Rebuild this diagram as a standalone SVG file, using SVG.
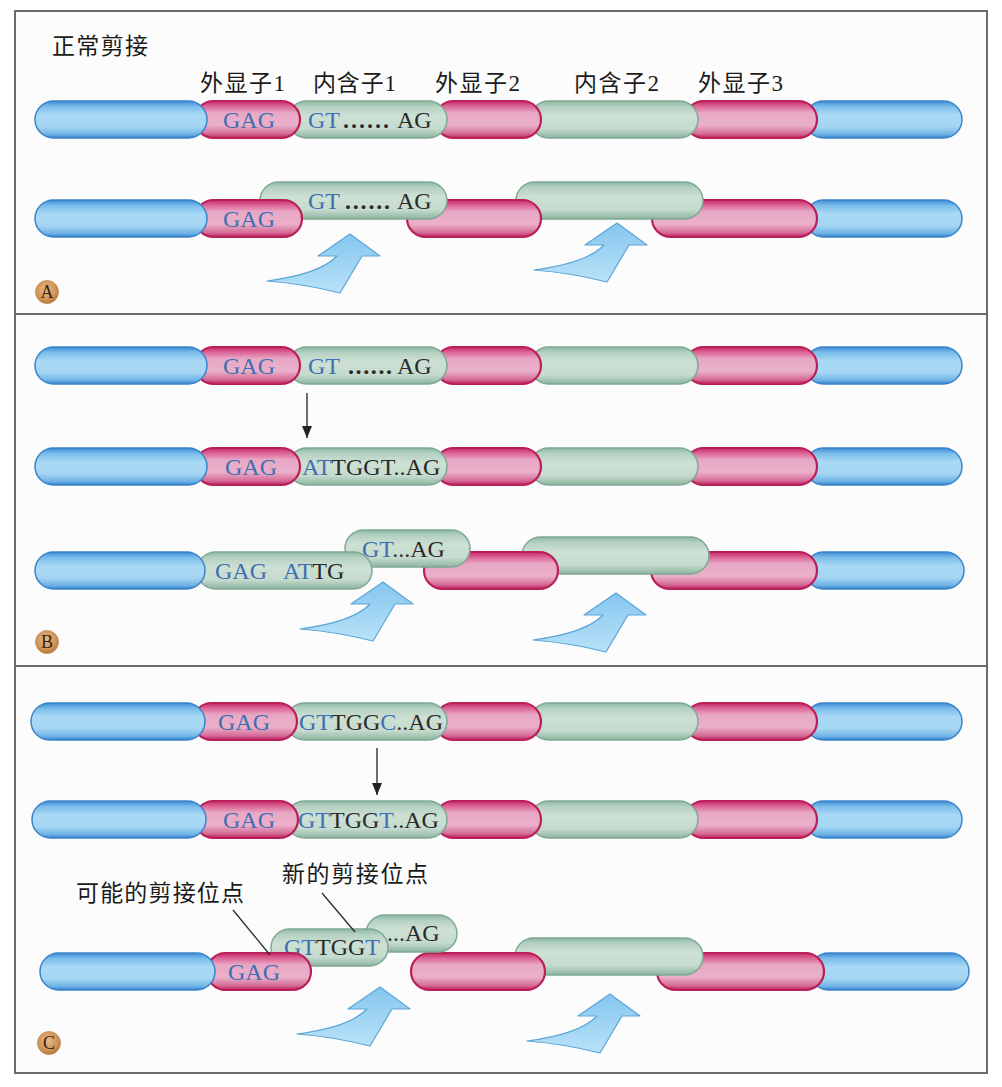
<svg xmlns="http://www.w3.org/2000/svg" width="1002" height="1087" viewBox="0 0 1002 1087">
<defs>
<linearGradient id="gBlue" x1="0" y1="0" x2="0" y2="1">
<stop offset="0" stop-color="#3b8ad4"/><stop offset="0.15" stop-color="#7bbdea"/><stop offset="0.38" stop-color="#a9d9f5"/><stop offset="0.7" stop-color="#a4d5f3"/><stop offset="0.9" stop-color="#6fb3e5"/><stop offset="1" stop-color="#3580cc"/>
</linearGradient>
<linearGradient id="gPink" x1="0" y1="0" x2="0" y2="1">
<stop offset="0" stop-color="#c42a64"/><stop offset="0.14" stop-color="#dc6496"/><stop offset="0.32" stop-color="#e8a8c5"/><stop offset="0.65" stop-color="#eab0ca"/><stop offset="0.88" stop-color="#d56c97"/><stop offset="1" stop-color="#bb205a"/>
</linearGradient>
<linearGradient id="gGreen" x1="0" y1="0" x2="0" y2="1">
<stop offset="0" stop-color="#8fb8a4"/><stop offset="0.15" stop-color="#b4d1c1"/><stop offset="0.4" stop-color="#cde0d4"/><stop offset="0.75" stop-color="#c5dbce"/><stop offset="1" stop-color="#8db49f"/>
</linearGradient>
<linearGradient id="gArrow" x1="0" y1="0" x2="0" y2="1">
<stop offset="0" stop-color="#85c6ef"/><stop offset="1" stop-color="#b9e2f8"/>
</linearGradient>
<radialGradient id="gBadge" cx="0.45" cy="0.4" r="0.6">
<stop offset="0" stop-color="#e6b987"/><stop offset="0.7" stop-color="#d0955a"/><stop offset="1" stop-color="#b57638"/>
</radialGradient>
<path id="bigArrow" d="M0,0 L30,22 L12,22 L-10,59 Q-45,50 -83,47 Q-30,40 -13,22 L-32,22 Z"/>
<marker id="ah" viewBox="0 0 12 10" refX="12" refY="5" markerWidth="12" markerHeight="10" markerUnits="userSpaceOnUse" orient="auto">
<path d="M0,0 L12,5 L0,10 Z" fill="#222"/>
</marker>
</defs>
<style>
.blue{fill:url(#gBlue);stroke:#3a84cc;stroke-width:1.5}
.pink{fill:url(#gPink);stroke:#bb1f58;stroke-width:2.2}
.green{fill:url(#gGreen);stroke:#7ea894;stroke-width:1.5}
.seq{font-family:"Liberation Serif",serif;font-size:24px}
.dots{font-weight:bold}
.b{fill:#3f6fb3}
.k{fill:#2a2a2a}
.lbl{font-family:"Liberation Serif","Noto Sans CJK SC",sans-serif;font-size:23px;fill:#1a1a1a}
.badge{fill:url(#gBadge);stroke:#c88a50;stroke-width:0.8}
.badgeT{font-family:"Liberation Serif",serif;font-size:18px;fill:#3a2410;text-anchor:middle}
.arr{fill:url(#gArrow);stroke:#5aa5d8;stroke-width:1.2;stroke-linejoin:round}
.lead{stroke:#2a2a2a;stroke-width:1.3;fill:none}
.thin{stroke:#222;stroke-width:1.3;fill:none}
</style>

<rect x="0" y="0" width="1002" height="1087" fill="#ffffff"/>
<g id="frame">
<rect x="15" y="11" width="972" height="1062" fill="#fcfcfc" stroke="#6a6a6a" stroke-width="2"/>
<line x1="15" y1="314" x2="987" y2="314" stroke="#6a6a6a" stroke-width="2"/>
<line x1="15" y1="666" x2="987" y2="666" stroke="#6a6a6a" stroke-width="2"/>
</g>

<!-- Panel A -->
<g id="title-A"><text class="lbl" x="52" y="54" font-size="24" textLength="96" lengthAdjust="spacing">正常剪接</text></g>
<g id="labels-A">
<text class="lbl" x="200" y="91" textLength="85" lengthAdjust="spacing">外显子1</text>
<text class="lbl" x="313" y="91" textLength="83" lengthAdjust="spacing">内含子1</text>
<text class="lbl" x="435" y="91" textLength="85" lengthAdjust="spacing">外显子2</text>
<text class="lbl" x="574" y="91" textLength="85" lengthAdjust="spacing">内含子2</text>
<text class="lbl" x="698" y="91" textLength="85" lengthAdjust="spacing">外显子3</text>
</g>

<g id="A1">
<g id="A1-blue2"><rect class="blue" x="805" y="101" width="157" height="37" rx="18.5"/></g>
<g id="A1-exon3"><rect class="pink" x="685" y="101" width="132" height="37" rx="18.5"/></g>
<g id="A1-intron2"><rect class="green" x="530" y="101" width="168" height="37" rx="18.5"/></g>
<g id="A1-exon2"><rect class="pink" x="435" y="101" width="106" height="37" rx="18.5"/></g>
<g id="A1-intron1"><rect class="green" x="288" y="101" width="159" height="37" rx="18.5"/>
<text class="seq b" x="308" y="128">GT</text><text class="seq k dots" x="343" y="128" textLength="46" lengthAdjust="spacing">......</text><text class="seq k" x="397" y="128">AG</text></g>
<g id="A1-exon1"><rect class="pink" x="195" y="101" width="105" height="37" rx="18.5"/><text class="seq b" x="223" y="128">GAG</text></g>
<g id="A1-blue1"><rect class="blue" x="35" y="101" width="172" height="37" rx="18.5"/></g>
</g>

<g id="A2">
<g id="A2-blue2"><rect class="blue" x="805" y="200" width="157" height="37" rx="18.5"/></g>
<g id="A2-exon3"><rect class="pink" x="652" y="200" width="165" height="37" rx="18.5"/></g>
<g id="A2-intron2"><rect class="green" x="516" y="182" width="187" height="37" rx="18.5"/></g>
<g id="A2-exon2"><rect class="pink" x="407" y="200" width="134" height="37" rx="18.5"/></g>
<g id="A2-intron1"><rect class="green" x="260" y="182" width="187" height="37" rx="18.5"/>
<text class="seq b" x="308" y="209">GT</text><text class="seq k dots" x="345" y="209" textLength="45" lengthAdjust="spacing">......</text><text class="seq k" x="397" y="209">AG</text></g>
<g id="A2-exon1"><rect class="pink" x="195" y="200" width="107" height="37" rx="18.5"/><text class="seq b" x="223" y="227">GAG</text></g>
<g id="A2-blue1"><rect class="blue" x="35" y="200" width="172" height="37" rx="18.5"/></g>
</g>

<!-- Panel B -->
<g id="B1">
<g id="B1-blue2"><rect class="blue" x="805" y="347" width="157" height="37" rx="18.5"/></g>
<g id="B1-exon3"><rect class="pink" x="685" y="347" width="132" height="37" rx="18.5"/></g>
<g id="B1-intron2"><rect class="green" x="530" y="347" width="168" height="37" rx="18.5"/></g>
<g id="B1-exon2"><rect class="pink" x="435" y="347" width="106" height="37" rx="18.5"/></g>
<g id="B1-intron1"><rect class="green" x="288" y="347" width="159" height="37" rx="18.5"/>
<text class="seq b" x="308" y="374">GT</text><text class="seq k dots" x="348" y="374" textLength="44" lengthAdjust="spacing">......</text><text class="seq k" x="397" y="374">AG</text></g>
<g id="B1-exon1"><rect class="pink" x="195" y="347" width="105" height="37" rx="18.5"/><text class="seq b" x="223" y="374">GAG</text></g>
<g id="B1-blue1"><rect class="blue" x="35" y="347" width="172" height="37" rx="18.5"/></g>
</g>

<g id="B2">
<g id="B2-blue2"><rect class="blue" x="805" y="448" width="157" height="37" rx="18.5"/></g>
<g id="B2-exon3"><rect class="pink" x="685" y="448" width="132" height="37" rx="18.5"/></g>
<g id="B2-intron2"><rect class="green" x="530" y="448" width="168" height="37" rx="18.5"/></g>
<g id="B2-exon2"><rect class="pink" x="435" y="448" width="106" height="37" rx="18.5"/></g>
<g id="B2-intron1"><rect class="green" x="288" y="448" width="159" height="37" rx="18.5"/>
<text class="seq" x="302" y="475"><tspan class="b">AT</tspan><tspan class="k">TGGT..AG</tspan></text></g>
<g id="B2-exon1"><rect class="pink" x="195" y="448" width="105" height="37" rx="18.5"/><text class="seq b" x="225" y="475">GAG</text></g>
<g id="B2-blue1"><rect class="blue" x="35" y="448" width="172" height="37" rx="18.5"/></g>
</g>

<g id="B3">
<g id="B3-blue2"><rect class="blue" x="805" y="552" width="159" height="37" rx="18.5"/></g>
<g id="B3-exon3"><rect class="pink" x="651" y="552" width="166" height="37" rx="18.5"/></g>
<g id="B3-intron2"><rect class="green" x="522" y="537" width="187" height="37" rx="18.5"/></g>
<g id="B3-exon2"><rect class="pink" x="424" y="552" width="134" height="37" rx="18.5"/></g>
<g id="B3-intron1"><rect class="green" x="345" y="530" width="125" height="37" rx="18.5"/>
<text class="seq" x="362" y="557"><tspan class="b">GT</tspan><tspan class="k">...AG</tspan></text></g>
<g id="B3-exon1"><rect class="green" x="197" y="552" width="175" height="37" rx="18.5"/>
<text class="seq b" x="215" y="579">GAG</text><text class="seq" x="283" y="579"><tspan class="b">AT</tspan><tspan class="k">TG</tspan></text></g>
<g id="B3-blue1"><rect class="blue" x="35" y="552" width="170" height="37" rx="18.5"/></g>
</g>

<!-- Panel C -->
<g id="C1">
<g id="C1-blue2"><rect class="blue" x="805" y="703" width="157" height="37" rx="18.5"/></g>
<g id="C1-exon3"><rect class="pink" x="685" y="703" width="132" height="37" rx="18.5"/></g>
<g id="C1-intron2"><rect class="green" x="530" y="703" width="168" height="37" rx="18.5"/></g>
<g id="C1-exon2"><rect class="pink" x="435" y="703" width="106" height="37" rx="18.5"/></g>
<g id="C1-intron1"><rect class="green" x="286" y="703" width="161" height="37" rx="18.5"/>
<text class="seq" x="299" y="730"><tspan class="b">GT</tspan><tspan class="k">TGG</tspan><tspan class="b">C</tspan><tspan class="k">..AG</tspan></text></g>
<g id="C1-exon1"><rect class="pink" x="193" y="703" width="104" height="37" rx="18.5"/><text class="seq b" x="218" y="730">GAG</text></g>
<g id="C1-blue1"><rect class="blue" x="31" y="703" width="174" height="37" rx="18.5"/></g>
</g>

<g id="C2">
<g id="C2-blue2"><rect class="blue" x="805" y="801" width="157" height="37" rx="18.5"/></g>
<g id="C2-exon3"><rect class="pink" x="685" y="801" width="132" height="37" rx="18.5"/></g>
<g id="C2-intron2"><rect class="green" x="530" y="801" width="168" height="37" rx="18.5"/></g>
<g id="C2-exon2"><rect class="pink" x="435" y="801" width="106" height="37" rx="18.5"/></g>
<g id="C2-intron1"><rect class="green" x="286" y="801" width="161" height="37" rx="18.5"/>
<text class="seq" x="298" y="828"><tspan class="b">GT</tspan><tspan class="k">TGG</tspan><tspan class="b">T</tspan><tspan class="k">..AG</tspan></text></g>
<g id="C2-exon1"><rect class="pink" x="195" y="801" width="103" height="37" rx="18.5"/><text class="seq b" x="223" y="828">GAG</text></g>
<g id="C2-blue1"><rect class="blue" x="32" y="801" width="174" height="37" rx="18.5"/></g>
</g>

<g id="C3">
<g id="C3-blue2"><rect class="blue" x="810" y="953" width="159" height="37" rx="18.5"/></g>
<g id="C3-exon3"><rect class="pink" x="657" y="953" width="167" height="37" rx="18.5"/></g>
<g id="C3-intron2"><rect class="green" x="515" y="938" width="188" height="37" rx="18.5"/></g>
<g id="C3-exon2"><rect class="pink" x="411" y="953" width="134" height="37" rx="18.5"/></g>
<g id="C3-intron1b"><rect class="green" x="366" y="915" width="91" height="37" rx="18.5"/><text class="seq k" x="387" y="941">...AG</text></g>
<g id="C3-intron1a"><rect class="green" x="271" y="929" width="117" height="37" rx="18.5"/>
<text class="seq" x="284" y="955"><tspan class="b">GT</tspan><tspan class="k">TGG</tspan><tspan class="b">T</tspan></text></g>
<g id="C3-exon1"><rect class="pink" x="207" y="953" width="104" height="37" rx="18.5"/><text class="seq b" x="228" y="980">GAG</text></g>
<g id="C3-blue1"><rect class="blue" x="40" y="953" width="175" height="37" rx="18.5"/></g>
</g>

<g id="labels-C">
<text class="lbl" x="76" y="901" font-size="23.5" textLength="168" lengthAdjust="spacing">可能的剪接位点</text>
<text class="lbl" x="282" y="882" font-size="23.5" textLength="146" lengthAdjust="spacing">新的剪接位点</text>
</g>

<g id="splice-arrows">
<use href="#bigArrow" class="arr" transform="translate(350,234)"/>
<use href="#bigArrow" class="arr" transform="translate(617,223)"/>
<use href="#bigArrow" class="arr" transform="translate(383,582)"/>
<use href="#bigArrow" class="arr" transform="translate(616,593)"/>
<use href="#bigArrow" class="arr" transform="translate(380,987)"/>
<use href="#bigArrow" class="arr" transform="translate(610,994)"/>
</g>

<g id="connectors">
<line class="thin" x1="307" y1="393" x2="307" y2="438" marker-end="url(#ah)"/>
<line class="thin" x1="377" y1="748" x2="377" y2="795" marker-end="url(#ah)"/>
<line class="lead" x1="233" y1="910" x2="270" y2="955"/>
<line class="lead" x1="322" y1="893" x2="355" y2="932"/>
</g>

<g id="badges">
<g id="badge-A"><circle class="badge" cx="47" cy="292" r="11.5"/><text class="badgeT" x="47" y="298">A</text></g>
<g id="badge-B"><circle class="badge" cx="47" cy="642" r="11.5"/><text class="badgeT" x="47" y="648">B</text></g>
<g id="badge-C"><circle class="badge" cx="49" cy="1043" r="11.5"/><text class="badgeT" x="49" y="1049">C</text></g>
</g>
</svg>
